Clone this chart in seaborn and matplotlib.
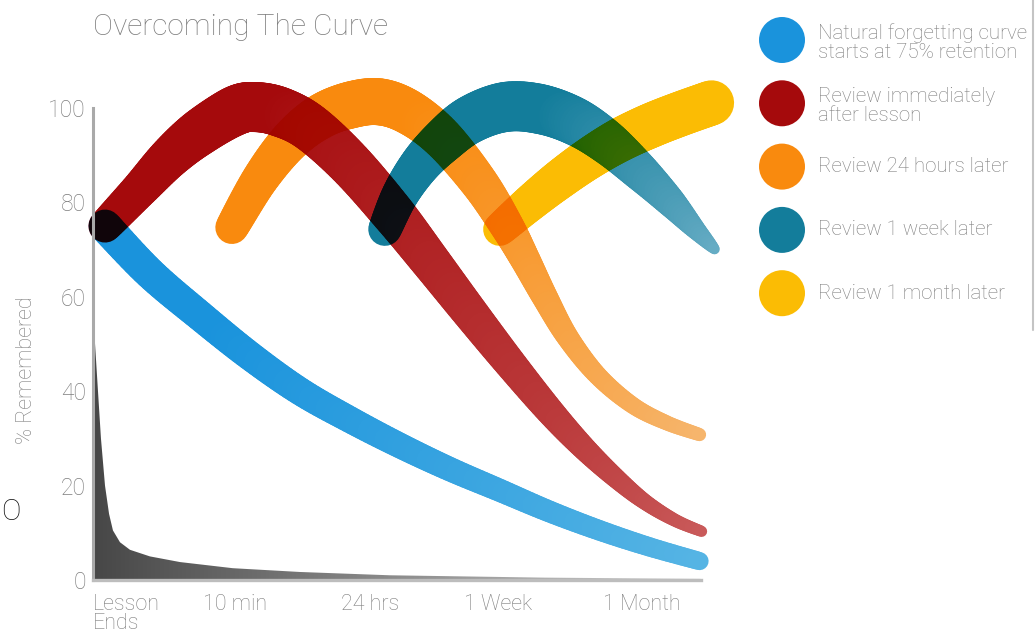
import numpy as np
import matplotlib
matplotlib.use("Agg")
import matplotlib.pyplot as plt
from matplotlib.collections import LineCollection
from matplotlib.lines import Line2D
from matplotlib.colors import to_rgb, LinearSegmentedColormap
import seaborn as sns

sns.set_style("white")
plt.rcParams["font.family"] = ["Roboto", "DejaVu Sans"]
plt.rcParams["font.weight"] = "light"

# ---------------------------------------------------------------- data
title = "Overcoming The Curve"
y_label = "% Remembered"
time_ticks = [0.9, 1.9, 2.9, 3.9]
time_label_pos = [0.0, 0.91, 1.78, 2.6, 3.52]
time_labels = ["Lesson\nEnds", "10 min", "24 hrs", "1 Week", "1 Month"]
pct_ticks = [0, 20, 40, 60, 80, 100]

series_names = [
    "Natural forgetting curve\nstarts at 75% retention",
    "Review immediately\nafter lesson",
    "Review 24 hours later",
    "Review 1 week later",
    "Review 1 month later",
]

# natural forgetting curve
natural_x = [0.077, 0.365, 0.686, 1.006, 1.327, 1.647, 1.968, 2.288, 2.609,
             2.929, 3.25, 3.571, 3.891]
natural_y = [75.0, 65.0, 56.0, 47.5, 40.0, 34.0, 28.5, 23.5, 19.0, 14.5,
             10.5, 7.0, 4.0]

# review immediately after the lesson
review_now_x = [0.077, 0.301, 0.494, 0.686, 0.910, 1.038, 1.198, 1.391,
                1.647, 1.923, 2.160, 2.417, 2.673, 2.929, 3.141, 3.346,
                3.538, 3.731, 3.904]
review_now_y = [75.0, 82.8, 89.6, 94.9, 99.4, 100.2, 99.2, 95.9, 88.2, 77.7,
                67.7, 56.7, 46.0, 35.8, 28.2, 21.8, 16.6, 12.7, 10.3]

# review after 24 hours
review_day_x = [0.891, 1.071, 1.263, 1.455, 1.647, 1.840, 2.032, 2.244,
                2.481, 2.654, 2.769, 2.897, 3.045, 3.237, 3.462, 3.679, 3.891]
review_day_y = [74.7, 84.9, 93.0, 98.1, 100.6, 101.3, 99.0, 93.5, 84.0, 75.0,
                68.1, 60.0, 51.4, 43.3, 37.0, 33.3, 30.8]

# review after one week
review_week_x = [1.872, 1.968, 2.096, 2.244, 2.417, 2.641, 2.865, 3.090,
                 3.295, 3.506, 3.699, 3.859, 3.987]
review_week_y = [74.3, 81.5, 87.9, 93.0, 97.5, 100.2, 99.8, 97.2, 92.8, 86.6,
                 80.3, 74.5, 70.1]

# review after one month
review_month_x = [2.609, 2.801, 2.994, 3.186, 3.378, 3.571, 3.763, 3.968]
review_month_y = [74.3, 79.8, 84.9, 89.4, 93.2, 96.2, 98.7, 101.1]

# baseline retention without any learning reinforcement
baseline_x = [0.0, 0.013, 0.032, 0.051, 0.077, 0.103, 0.128, 0.173, 0.237,
              0.365, 0.558, 0.897, 1.327, 1.904, 2.897, 3.897]
baseline_y = [60.0, 50.0, 40.0, 30.0, 20.0, 14.0, 10.5, 8.0, 6.4, 5.0, 3.8,
              2.5, 1.7, 1.0, 0.5, 0.25]

# ---------------------------------------------------------------- style
W, H, DPI = 1036, 638, 100
AX_RECT = [93 / W, 58 / H, 608 / W, 472 / H]
PX = 72 / DPI  # points per pixel
SUB = 12       # drawing steps between neighbouring points

TEXT = "#7d7d7d"
legend_colors = ["#1a93dc", "#a50a0c", "#f98a0e", "#137d9b", "#fbbc04"]

band_styles = [
    # start colour, end colour, fade start (0..1), widths in px
    dict(c0="#1a93dc", c1="#55b4e4", fade=0.2,
         w=np.linspace(33, 18, len(natural_x))),
    dict(c0="#a50a0c", c1="#c95a5a", fade=0.35,
         w=[33, 37, 42, 47, 50, 50, 50, 48, 46, 44, 40, 36, 32, 28, 24, 20,
            16, 13, 11]),
    dict(c0="#f98a0e", c1="#f6b56c", fade=0.4,
         w=[33, 37, 41, 45, 47, 47, 45, 42, 38, 34, 30, 26, 22, 19, 17, 15,
            13]),
    dict(c0="#137d9b", c1="#66acc4", fade=0.55,
         w=[33, 37, 41, 45, 48, 50, 50, 48, 44, 38, 30, 20, 10]),
    dict(c0="#fbbc04", c1="#fbbc04", fade=0.9,
         w=[33, 37, 40, 42, 44, 45, 45, 45]),
]
band_data = [
    (natural_x, natural_y),
    (review_now_x, review_now_y),
    (review_day_x, review_day_y),
    (review_week_x, review_week_y),
    (review_month_x, review_month_y),
]


def setup_axes(a):
    a.set_xlim(0, 3.9)
    a.set_ylim(0, 100)


def smooth_path(xs, ys):
    """Catmull-Rom path through every given point (drawing only)."""
    P = np.column_stack([xs, ys]).astype(float)
    Q = np.vstack([P[0], P, P[-1]])
    t = np.linspace(0, 1, SUB, endpoint=False)[:, None]
    out = []
    for i in range(len(P) - 1):
        p0, p1, p2, p3 = Q[i], Q[i + 1], Q[i + 2], Q[i + 3]
        out.append(0.5 * (2 * p1 + (-p0 + p2) * t
                          + (2 * p0 - 5 * p1 + 4 * p2 - p3) * t ** 2
                          + (-p0 + 3 * p1 - 3 * p2 + p3) * t ** 3))
    out.append(P[-1:])
    return np.vstack(out)


def draw_band(a, xs, ys, style):
    n = len(xs)
    pts = smooth_path(xs, ys)
    u = np.linspace(0, n - 1, len(pts))
    pw = np.interp(u, np.arange(n), np.asarray(style["w"], float))
    segs = np.stack([pts[:-1], pts[1:]], axis=1)
    t = 0.5 * (u[:-1] + u[1:]) / (n - 1)
    f = np.clip((t - style["fade"]) / (1 - style["fade"]), 0, 1)[:, None]
    cols = (1 - f) * np.array(to_rgb(style["c0"])) + f * np.array(to_rgb(style["c1"]))
    lw = 0.5 * (pw[:-1] + pw[1:]) * PX
    lc = LineCollection(segs, colors=cols, linewidths=lw, capstyle="round",
                        joinstyle="round", clip_on=False)
    a.add_collection(lc)


def band_layer(xs, ys, style):
    """Render one band on its own canvas; returns RGB composited over white."""
    f = plt.figure(figsize=(W / DPI, H / DPI), dpi=DPI)
    f.patch.set_alpha(0)
    a = f.add_axes(AX_RECT)
    setup_axes(a)
    a.axis("off")
    draw_band(a, xs, ys, style)
    f.canvas.draw()
    rgba = np.asarray(f.canvas.buffer_rgba()).astype(float) / 255.0
    plt.close(f)
    alpha = rgba[..., 3:4]
    return rgba[..., :3] * alpha + (1 - alpha)


# Overlapping bands combine multiplicatively, like ink layers.
layers = [band_layer(x, y, s) for (x, y), s in zip(band_data, band_styles)]
ink = np.prod(np.stack(layers), axis=0)

# ---------------------------------------------------------------- figure
fig = plt.figure(figsize=(W / DPI, H / DPI), dpi=DPI)
fig.patch.set_facecolor("white")
fig.figimage((ink * 255).astype(np.uint8), xo=0, yo=0, origin="upper", zorder=0)

ax = fig.add_axes(AX_RECT)
ax.set_zorder(1)
ax.set_facecolor("none")

# baseline area with a left-to-right fade
poly = ax.fill_between(baseline_x, 0, baseline_y, color="none", lw=0)
fade = LinearSegmentedColormap.from_list("fade", ["#474747", "#8c8c8c", "#d2d2d2"])
im = ax.imshow(np.linspace(0, 1, 256).reshape(1, -1), extent=(0, 3.9, 0, 60),
               aspect="auto", cmap=fade, origin="lower", zorder=1)
im.set_clip_path(poly.get_paths()[0], transform=ax.transData)
setup_axes(ax)

for side in ("top", "right"):
    ax.spines[side].set_visible(False)
ax.spines["left"].set_color("#a9a9a9")
ax.spines["left"].set_linewidth(2.2)
ax.spines["bottom"].set_color("#bdbdbd")
ax.spines["bottom"].set_linewidth(2.4)

ax.set_yticks(pct_ticks)
ax.set_yticklabels([str(v) for v in pct_ticks])
ax.tick_params(axis="y", direction="in", length=30 * PX, width=1.6,
               color="#a9a9a9", labelcolor=TEXT, labelsize=16.5, pad=5)

ax.set_xticks(time_ticks)
ax.set_xticklabels([])
ax.tick_params(axis="x", which="major", direction="in", length=33 * PX,
               width=1.6, color="#a9a9a9")
ax.set_xticks(time_label_pos, minor=True)
ax.set_xticklabels(time_labels, minor=True)
ax.tick_params(axis="x", which="minor", length=0, labelcolor=TEXT,
               labelsize=15.5, pad=10)
first = ax.get_xticklabels(minor=True)[0]
first.set_horizontalalignment("left")
first.set_multialignment("left")
first.set_linespacing(0.9)

# titles
fig.text(93 / W, 1 - 27 / H, title, fontsize=21.5, color=TEXT,
         va="center", ha="left")
fig.text(27 / W, 1 - 370 / H, y_label, fontsize=15.5, color=TEXT,
         rotation=90, va="center", ha="center")
fig.text(1 / W, 1 - 512 / H, "O", fontsize=21, color="#111111",
         va="center", ha="left")

# legend panel
lax = fig.add_axes([0, 0, 1, 1])
lax.set_zorder(2)
lax.set_facecolor("none")
lax.set_xlim(0, W)
lax.set_ylim(H, 0)
lax.axis("off")
rows = 40 + 63.3 * np.arange(len(series_names))
sns.scatterplot(x=[782] * len(rows), y=rows, hue=series_names,
                palette=legend_colors, s=(46 * PX) ** 2, edgecolor="none",
                legend=False, ax=lax)
for yy, name in zip(rows, series_names):
    lax.text(818, yy + (3 if "\n" in name else 0), name, fontsize=14.8,
             color=TEXT, va="center", ha="left", linespacing=1.0)
fig.add_artist(Line2D([1033 / W, 1033 / W], [1, 1 - 330 / H],
                      transform=fig.transFigure, color="#c4c4c4", lw=1.5))

fig.savefig("out.png", dpi=DPI)
